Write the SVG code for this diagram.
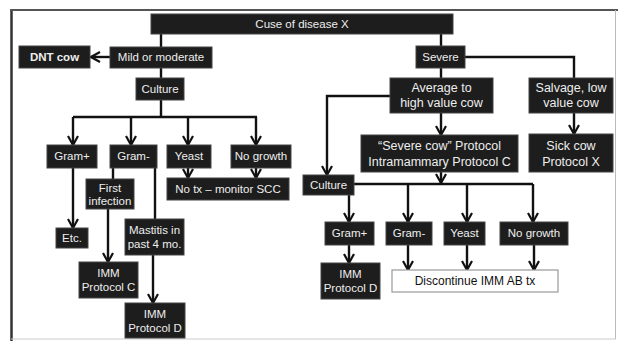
<svg xmlns="http://www.w3.org/2000/svg" width="618" height="341" viewBox="0 0 618 341">
<defs>
<marker id="arr" markerUnits="userSpaceOnUse" markerWidth="12" markerHeight="12" viewBox="0 0 12 12" refX="10" refY="6" orient="auto">
<path d="M1,1 L10,6 L1,11" fill="none" stroke="#111" stroke-width="2.2"/>
</marker>
<style>
.b{fill:#1d1d1d;stroke:#444;stroke-width:1}
.t{font-family:"Liberation Sans",Arial,sans-serif;font-size:11.5px;fill:#eeeeee;text-anchor:middle}
.L{font-size:12.5px}
.w{fill:#ffffff;stroke:#999;stroke-width:1.2}
.tk{font-family:"Liberation Sans",Arial,sans-serif;font-size:12px;fill:#111;text-anchor:middle}
.c{fill:none;stroke:#111;stroke-width:2.4}
.a{marker-end:url(#arr)}
</style>
</defs>
<rect width="618" height="341" fill="#ffffff"/>
<g id="frame">
<line x1="11.5" y1="10" x2="11.5" y2="341" stroke="#333" stroke-width="2.5"/>
<line x1="10" y1="10" x2="618" y2="10" stroke="#555" stroke-width="2"/>
<line x1="615.5" y1="10" x2="615.5" y2="339" stroke="#bbb" stroke-width="1"/>
<line x1="11" y1="339" x2="616" y2="339" stroke="#ccc" stroke-width="1"/>
</g>
<g id="connectors">
<path class="c" d="M161,34 V47"/>
<path class="c a" d="M110,57 H91"/>
<path class="c" d="M161,68 V78"/>
<path class="c" d="M161,100 V117 M73,117 H257"/>
<path class="c a" d="M73,117 V145"/>
<path class="c a" d="M131,117 V145"/>
<path class="c a" d="M188,117 V145"/>
<path class="c a" d="M256,117 V145"/>
<path class="c a" d="M188,168 V178"/>
<path class="c a" d="M256,168 V178"/>
<path class="c a" d="M73,168 V228"/>
<path class="c" d="M113,168 V179"/>
<path class="c" d="M155,168 V219"/>
<path class="c a" d="M108,209 V262"/>
<path class="c a" d="M153,255 V303"/>
<path class="c" d="M441,34 V46"/>
<path class="c" d="M441,68 V78"/>
<path class="c" d="M465,57 H574 V78"/>
<path class="c a" d="M441,113 V135"/>
<path class="c a" d="M574,113 V134"/>
<path class="c a" d="M390,96 H327 V175"/>
<path class="c a" d="M441,172 V183"/>
<path class="c" d="M354,184 H533"/>
<path class="c a" d="M349,195 V222"/>
<path class="c a" d="M408,184 V222"/>
<path class="c a" d="M467,184 V222"/>
<path class="c a" d="M533,184 V222"/>
<path class="c a" d="M349,245 V263"/>
<path class="c a" d="M408,245 V270"/>
<path class="c a" d="M467,245 V270"/>
<path class="c a" d="M534,245 V270"/>
</g>
<g id="n_top"><rect class="b" x="151" y="14" width="302" height="20"/><text class="t" x="302" y="28">Cuse of disease X</text></g>
<g id="n_dnt"><rect class="b" x="19" y="46" width="71" height="22"/><text class="t" x="54.5" y="61" font-weight="bold">DNT cow</text></g>
<g id="n_mild"><rect class="b" x="110" y="47" width="102" height="21"/><text class="t" x="161" y="61">Mild or moderate</text></g>
<g id="n_culture1"><rect class="b" x="136" y="78" width="48" height="22"/><text class="t" x="160" y="93">Culture</text></g>
<g id="n_gp1"><rect class="b" x="47" y="145" width="50" height="23"/><text class="t" x="72" y="160">Gram+</text></g>
<g id="n_gn1"><rect class="b" x="110" y="145" width="47" height="23"/><text class="t" x="133.5" y="160">Gram-</text></g>
<g id="n_yeast1"><rect class="b" x="167" y="145" width="44" height="23"/><text class="t" x="189" y="160">Yeast</text></g>
<g id="n_ng1"><rect class="b" x="231" y="145" width="60" height="23"/><text class="t" x="261" y="160">No growth</text></g>
<g id="n_notx"><rect class="b" x="167" y="178" width="122" height="22"/><text class="t" x="228" y="193">No tx – monitor SCC</text></g>
<g id="n_first"><rect class="b" x="86" y="179" width="48" height="30"/><text class="t" x="110" y="192">First</text><text class="t" x="110" y="205">infection</text></g>
<g id="n_etc"><rect class="b" x="56" y="228" width="32" height="20"/><text class="t" x="72" y="242">Etc.</text></g>
<g id="n_mast"><rect class="b" x="125" y="219" width="59" height="36"/><text class="t" x="154.5" y="234">Mastitis in</text><text class="t" x="154.5" y="248">past 4 mo.</text></g>
<g id="n_immc"><rect class="b" x="79" y="262" width="59" height="36"/><text class="t" x="108.5" y="277">IMM</text><text class="t" x="108.5" y="291">Protocol C</text></g>
<g id="n_immd1"><rect class="b" x="125" y="303" width="60" height="35"/><text class="t" x="155" y="318">IMM</text><text class="t" x="155" y="332">Protocol D</text></g>
<g id="n_severe"><rect class="b" x="416" y="46" width="49" height="22"/><text class="t" x="440.5" y="61">Severe</text></g>
<g id="n_avg"><rect class="b" x="390" y="78" width="103" height="35"/><text class="t L" x="441.5" y="92">Average to</text><text class="t L" x="441.5" y="107">high value cow</text></g>
<g id="n_salv"><rect class="b" x="529" y="78" width="84" height="35"/><text class="t L" x="571" y="92">Salvage, low</text><text class="t L" x="571" y="107">value cow</text></g>
<g id="n_sevprot"><rect class="b" x="361" y="135" width="157" height="37"/><text class="t L" x="439.5" y="150">“Severe cow” Protocol</text><text class="t L" x="439.5" y="166">Intramammary Protocol C</text></g>
<g id="n_sick"><rect class="b" x="529" y="134" width="84" height="38"/><text class="t L" x="571" y="150">Sick cow</text><text class="t L" x="571" y="166">Protocol X</text></g>
<g id="n_culture2"><rect class="b" x="303" y="175" width="51" height="20"/><text class="t" x="328.5" y="189">Culture</text></g>
<g id="n_gp2"><rect class="b" x="325" y="222" width="49" height="23"/><text class="t" x="349.5" y="237">Gram+</text></g>
<g id="n_gn2"><rect class="b" x="386" y="222" width="46" height="23"/><text class="t" x="409" y="237">Gram-</text></g>
<g id="n_yeast2"><rect class="b" x="444" y="222" width="41" height="23"/><text class="t" x="464.5" y="237">Yeast</text></g>
<g id="n_ng2"><rect class="b" x="500" y="222" width="68" height="23"/><text class="t" x="534" y="237">No growth</text></g>
<g id="n_immd2"><rect class="b" x="321" y="263" width="59" height="36"/><text class="t" x="350.5" y="278">IMM</text><text class="t" x="350.5" y="292">Protocol D</text></g>
<g id="n_disc"><rect class="w" x="392" y="270" width="166" height="22"/><text class="tk" x="475" y="285">Discontinue IMM AB tx</text></g>
</svg>
